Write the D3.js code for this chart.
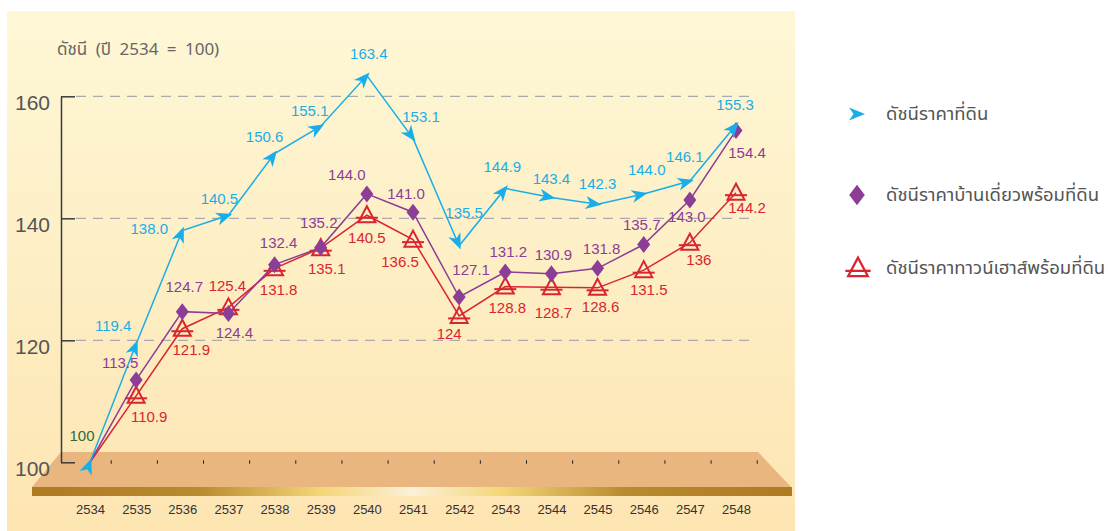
<!DOCTYPE html>
<html>
<head>
<meta charset="utf-8">
<script src="https://cdn.jsdelivr.net/npm/d3@7"></script>
<style>
  body { margin: 0; background: #fff; }
  svg text { font-family: "Liberation Sans", Arial, sans-serif; }
  .thai { font-family: "Noto Sans Thai", "Noto Sans", "DejaVu Sans", sans-serif; }
</style>
</head>
<body>
<div id="chart"></div>
<script>
// years (Buddhist era) and index values, base year 2534 = 100
const years = ["2534","2535","2536","2537","2538","2539","2540","2541","2542","2543","2544","2545","2546","2547","2548"];
const landIndex  = [100, 119.4, 138.0, 140.5, 150.6, 155.1, 163.4, 153.1, 135.5, 144.9, 143.4, 142.3, 144.0, 146.1, 155.3];
const houseIndex = [100, 113.5, 124.7, 124.4, 132.4, 135.2, 144.0, 141.0, 127.1, 131.2, 130.9, 131.8, 135.7, 143.0, 154.4];
const townIndex  = [100, 110.9, 121.9, 125.4, 131.8, 135.1, 140.5, 136.5, 124, 128.8, 128.7, 128.6, 131.5, 136, 144.2];
// label text as printed in the source
const landText  = ["100","119.4","138.0","140.5","150.6","155.1","163.4","153.1","135.5","144.9","143.4","142.3","144.0","146.1","155.3"];
const houseText = [null,"113.5","124.7","124.4","132.4","135.2","144.0","141.0","127.1","131.2","130.9","131.8","135.7","143.0","154.4"];
const townText  = [null,"110.9","121.9","125.4","131.8","135.1","140.5","136.5","124","128.8","128.7","128.6","131.5","136","144.2"];
const yTicks = [100, 120, 140, 160];
const seriesNames = ["ดัชนีราคาที่ดิน", "ดัชนีราคาบ้านเดี่ยวพร้อมที่ดิน", "ดัชนีราคาทาวน์เฮาส์พร้อมที่ดิน"];

// label nudges (px from the point)
const landLabelPos  = [[-8,-27],[-23,-18],[-33,-2],[-9,-17],[-10,-17],[-11,-16],[2,-22],[8,-22],[5,-33],[-3,-22],[0,-19],[0,-21],[3,-24],[-5,-24],[-1,-20]];
const houseLabelPos = [null,[-16,-17],[2,-25],[6,19],[4,-22],[-2,-25],[-20,-19],[-7,-19],[12,-27],[3,-20],[2,-19],[4,-20],[-2,-20],[-3,17],[11,22]];
const townLabelPos  = [null,[13,21],[9,21],[-1,-22],[4,21],[6,20],[0,22],[-13,22],[-10,18],[2,21],[2,25],[3,19],[5,19],[9,17],[11,15]];

const W = 1108, H = 531;
const BLUE = "#19aee7", PURPLE = "#8c3d96", RED = "#d9252f";

const svg = d3.select("#chart").append("svg")
    .attr("width", W).attr("height", H);

const defs = svg.append("defs");
const bg = defs.append("linearGradient").attr("id", "bg")
    .attr("x1", 0).attr("y1", 0).attr("x2", 0).attr("y2", 1);
bg.append("stop").attr("offset", "0%").attr("stop-color", "#fef7d6");
bg.append("stop").attr("offset", "100%").attr("stop-color", "#fde5b2");
const gold = defs.append("linearGradient").attr("id", "gold")
    .attr("x1", 0).attr("y1", 0).attr("x2", 1).attr("y2", 0);
[["0%","#ae7a22"],["22%","#b98a2e"],["38%","#f3d676"],["50%","#fbf0d8"],["62%","#f3d676"],["78%","#b98a2e"],["100%","#ae7a22"]]
    .forEach(s => gold.append("stop").attr("offset", s[0]).attr("stop-color", s[1]));

svg.append("rect").attr("width", W).attr("height", H).attr("fill", "#fff");
svg.append("rect").attr("x", 7).attr("y", 11).attr("width", 788).attr("height", H - 11).attr("fill", "url(#bg)");

// scales
const x = d3.scalePoint().domain(years).range([90, 736]);
const y = d3.scaleLinear().domain([100, 160]).range([462.3, 96.3]);
const step = x.step();

// floor
svg.append("path")
    .attr("d", "M61,452 L758,452 L791,487 L32,487 Z")
    .attr("fill", "#eab67f");
svg.append("rect").attr("x", 32).attr("y", 487).attr("width", 760).attr("height", 9).attr("fill", "url(#gold)");

// small ticks on the floor
svg.append("g").selectAll("line")
    .data(years)
    .join("line")
    .attr("x1", d => x(d) + step * 0.46).attr("x2", d => x(d) + step * 0.46)
    .attr("y1", y(100) - 2).attr("y2", y(100) + 1.5)
    .attr("stroke", "#222").attr("stroke-width", 1);

// grid
svg.append("g").selectAll("line")
    .data(yTicks.filter(d => d > 100))
    .join("line")
    .attr("x1", 76).attr("x2", 755)
    .attr("y1", d => y(d)).attr("y2", d => y(d))
    .attr("stroke", "#aaa").attr("stroke-width", 1.3)
    .attr("stroke-dasharray", "10,7");

// y axis
const yAxis = svg.append("g").attr("transform", "translate(61,0)")
    .call(d3.axisLeft(y).tickValues(yTicks).tickSize(-14).tickSizeOuter(0).tickPadding(11));
yAxis.select(".domain").attr("stroke", "#3a3a3a").attr("stroke-width", 1.5);
yAxis.selectAll(".tick line").attr("stroke", "#3a3a3a").attr("stroke-width", 1.5);
yAxis.selectAll(".tick text")
    .attr("font-size", 21).attr("fill", "#555").attr("y", 6)
    .style("font-family", "'Liberation Sans', Arial, sans-serif");

svg.append("text").attr("class", "thai")
    .attr("x", 57).attr("y", 55)
    .attr("font-size", 17).attr("fill", "#666")
    .attr("word-spacing", 4)
    .text("ดัชนี (ปี 2534 = 100)");

// x axis
const xAxis = svg.append("g").attr("transform", "translate(0,505)")
    .call(d3.axisBottom(x).tickSize(0).tickPadding(0));
xAxis.select(".domain").remove();
xAxis.selectAll(".tick text")
    .attr("font-size", 13).attr("fill", "#333")
    .style("font-family", "'Liberation Sans', Arial, sans-serif");

const line = d3.line().x((d, i) => x(years[i])).y(d => y(d));

function drawLine(vals, color) {
    svg.append("path").datum(vals)
        .attr("d", line).attr("fill", "none")
        .attr("stroke", color).attr("stroke-width", 1.5);
}

function drawLabels(texts, vals, pos, color) {
    svg.append("g").selectAll("text")
        .data(texts.map((t, i) => ({ t, i })).filter(d => d.t !== null))
        .join("text")
        .attr("x", d => x(years[d.i]) + pos[d.i][0])
        .attr("y", d => y(vals[d.i]) + pos[d.i][1])
        .attr("dy", "0.36em")
        .attr("text-anchor", "middle")
        .attr("font-size", 15)
        .attr("fill", d => (d.i === 0 ? "#2d6a3c" : color))
        .text(d => d.t);
}

// markers
const triPath = "M0,-9 L-8.5,7 L8.5,7 Z";
const arrowPath = "M4,0 L-12,-6.5 L-7.5,0 L-12,6.5 Z";
const diamondPath = "M0,-8.5 L6.5,0 L0,8.5 L-6.5,0 Z";

function drawTriangle(g, color) {
    g.append("path").attr("d", triPath).attr("fill", "none")
        .attr("stroke", color).attr("stroke-width", 2);
    g.append("line").attr("x1", -11).attr("x2", 11).attr("y1", 2.5).attr("y2", 2.5)
        .attr("stroke", color).attr("stroke-width", 2);
}

// townhouse series
drawLine(townIndex, RED);
townIndex.forEach((v, i) => {
    if (i === 0) return;
    drawTriangle(svg.append("g").attr("transform", `translate(${x(years[i])},${y(v)})`), RED);
});

// detached house series
drawLine(houseIndex, PURPLE);
svg.append("g").selectAll("path")
    .data(houseIndex.slice(1))
    .join("path")
    .attr("transform", (d, i) => `translate(${x(years[i + 1])},${y(d)})`)
    .attr("d", diamondPath).attr("fill", PURPLE);

// land series
drawLine(landIndex, BLUE);
svg.append("g").selectAll("path")
    .data(landIndex)
    .join("path")
    .attr("transform", (d, i) => {
        const j0 = i === 0 ? 0 : i - 1, j1 = i === 0 ? 1 : i;
        const dx = x(years[j1]) - x(years[j0]);
        const dy = y(landIndex[j1]) - y(landIndex[j0]);
        const a = Math.atan2(dy, dx) * 180 / Math.PI;
        return `translate(${x(years[i])},${y(d)}) rotate(${a})`;
    })
    .attr("d", arrowPath).attr("fill", BLUE);

drawLabels(townText, townIndex, townLabelPos, RED);
drawLabels(houseText, houseIndex, houseLabelPos, PURPLE);
drawLabels(landText, landIndex, landLabelPos, BLUE);

// legend
const legend = svg.append("g");
const legendY = [114, 195, 268];
legend.append("path").attr("transform", `translate(861,${legendY[0]})`).attr("d", arrowPath).attr("fill", BLUE);
legend.append("path").attr("transform", `translate(857,${legendY[1]}) scale(1.2)`).attr("d", diamondPath).attr("fill", PURPLE);
drawTriangle(legend.append("g").attr("transform", `translate(858,${legendY[2]}) scale(1.15)`), RED);
legend.selectAll("text")
    .data(seriesNames)
    .join("text")
    .attr("class", "thai")
    .attr("x", 886)
    .attr("y", (d, i) => legendY[i] + 6)
    .attr("font-size", 18.5)
    .attr("fill", "#555")
    .text(d => d);
</script>
</body>
</html>
